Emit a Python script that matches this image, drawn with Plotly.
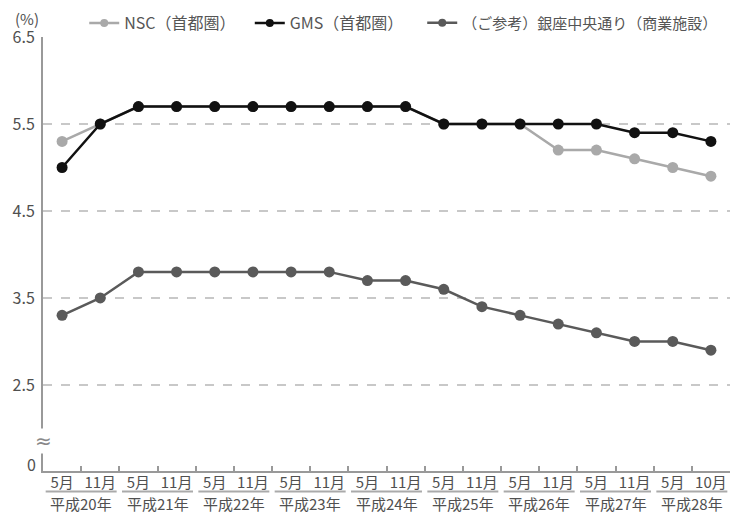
import plotly.graph_objects as go

months = ["5月", "11月"] * 8 + ["5月", "10月"]
years = ["平成20年", "平成21年", "平成22年", "平成23年", "平成24年",
         "平成25年", "平成26年", "平成27年", "平成28年"]

nsc = [5.3, 5.5, 5.7, 5.7, 5.7, 5.7, 5.7, 5.7, 5.7, 5.7,
       5.5, 5.5, 5.5, 5.2, 5.2, 5.1, 5.0, 4.9]
gms = [5.0, 5.5, 5.7, 5.7, 5.7, 5.7, 5.7, 5.7, 5.7, 5.7,
       5.5, 5.5, 5.5, 5.5, 5.5, 5.4, 5.4, 5.3]
ginza = [3.3, 3.5, 3.8, 3.8, 3.8, 3.8, 3.8, 3.8, 3.7, 3.7,
         3.6, 3.4, 3.3, 3.2, 3.1, 3.0, 3.0, 2.9]

names = ["NSC（首都圏）", "GMS（首都圏）", "（ご参考）銀座中央通り（商業施設）"]
colors = ["#a9a9a9", "#111111", "#5a5a5a"]
legend_ids = ["legend", "legend2", "legend3"]
legend_x = [0.06, 0.301, 0.552]
legend_font_sizes = [16, 16, 15]

y_ticks = [2.5, 3.5, 4.5, 5.5, 6.5]
y_tick_text = ["2.5", "3.5", "4.5", "5.5", "6.5"]
y_bottom = 1.511      # bottom of the broken axis
y_zero_pos = 1.58     # where the "0" label sits on the broken axis
break_pos = 1.86

FONT = "Noto Sans CJK JP"
TXT = "#505050"
xs = list(range(len(months)))

fig = go.Figure()
for vals, name, col in zip([nsc, gms, ginza], names, colors):
    fig.add_trace(go.Scatter(
        x=xs, y=vals, name=name, mode="lines+markers", showlegend=False,
        line=dict(color=col, width=2.5),
        marker=dict(color=col, size=11),
    ))
# legend entries (smaller symbols, as in the reference key)
for name, col, lid in zip(names, colors, legend_ids):
    fig.add_trace(go.Scatter(
        x=[None], y=[None], name=name, mode="lines+markers", legend=lid,
        line=dict(color=col, width=2.5), marker=dict(color=col, size=8),
    ))

# helper traces for secondary axes
fig.add_trace(go.Scatter(x=[None], y=[None], xaxis="x2", showlegend=False,
                         hoverinfo="skip"))
fig.add_trace(go.Scatter(x=[None], y=[None], yaxis="y2", showlegend=False,
                         hoverinfo="skip"))

shapes = []
annotations = []
for k, yr in enumerate(years):
    shapes.append(dict(type="line", xref="x", yref="paper",
                       x0=2 * k - 0.43, x1=2 * k + 1.43, y0=-0.047, y1=-0.047,
                       line=dict(color="#aaaaaa", width=2)))
    annotations.append(dict(xref="x", yref="paper", x=2 * k + 0.5, y=-0.076,
                            text=yr, showarrow=False, yanchor="middle",
                            font=dict(family=FONT, size=15, color=TXT)))

annotations.append(dict(xref="paper", yref="paper", x=-0.0226, y=1.042,
                        text="(%)", showarrow=False, xanchor="center",
                        yanchor="middle",
                        font=dict(family=FONT, size=15, color=TXT)))
annotations.append(dict(xref="paper", yref="y", x=0, y=break_pos,
                        text="≈", showarrow=False, xanchor="center",
                        yanchor="middle", bgcolor="white", borderpad=0,
                        font=dict(family="DejaVu Sans", size=20, color="#888888")))

def legend_style(x, size):
    return dict(orientation="h", xanchor="left", x=x, y=1.032,
                yanchor="middle",
                font=dict(family=FONT, size=size, color="#555555"),
                itemwidth=30, bgcolor="rgba(0,0,0,0)")

fig.update_layout(
    width=730, height=513,
    margin=dict(l=43, r=0, t=37, b=42, autoexpand=False),
    paper_bgcolor="white", plot_bgcolor="white",
    font=dict(family=FONT, size=16, color=TXT),
    showlegend=True,
    legend=legend_style(legend_x[0], legend_font_sizes[0]),
    legend2=legend_style(legend_x[1], legend_font_sizes[1]),
    legend3=legend_style(legend_x[2], legend_font_sizes[2]),
    xaxis=dict(range=[-0.5, 17.5], tickmode="array", tickvals=xs,
               ticktext=months, ticks="", showgrid=False, zeroline=False,
               showline=True, linecolor="#999999", linewidth=2,
               ticklabelstandoff=-3,
               tickfont=dict(family=FONT, size=15, color=TXT)),
    xaxis2=dict(range=[-0.5, 17.5], overlaying="x", anchor="y", side="bottom",
                tickmode="array", tickvals=[x + 0.5 for x in xs[:-1]],
                ticks="inside", ticklen=5, tickwidth=1.5, tickcolor="#999999",
                showticklabels=False, showgrid=False, zeroline=False,
                showline=False),
    yaxis=dict(range=[y_bottom, 6.5], tickmode="array",
               tickvals=y_ticks, ticktext=y_tick_text,
               showgrid=True, gridcolor="#c8c8c8", gridwidth=1.5,
               griddash="dash", zeroline=False, showline=True,
               linecolor="#999999", linewidth=2, ticks="",
               ticklabelstandoff=3,
               tickfont=dict(family=FONT, size=16, color=TXT)),
    yaxis2=dict(range=[y_bottom, 6.5], overlaying="y", anchor="x", side="left",
                tickmode="array", tickvals=[y_zero_pos], ticktext=["0"],
                showgrid=False, zeroline=False, showline=False, ticks="",
                ticklabelstandoff=6,
                tickfont=dict(family=FONT, size=16, color=TXT)),
    shapes=shapes, annotations=annotations,
)

fig.write_html("out.html", config={"displayModeBar": False},
               post_script="document.body.style.margin='0';")
